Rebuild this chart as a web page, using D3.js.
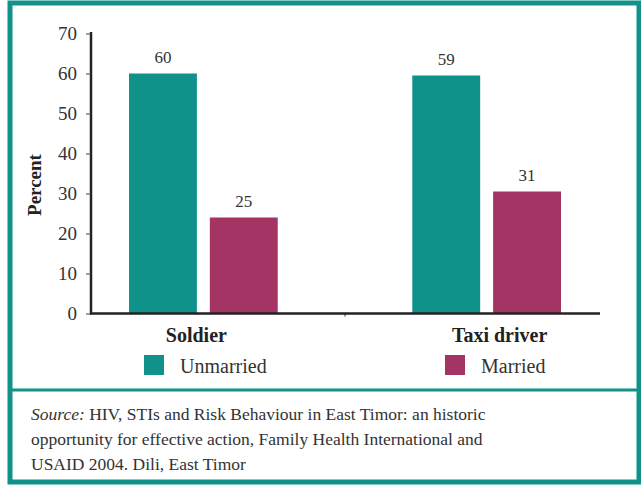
<!DOCTYPE html>
<html>
<head>
<meta charset="utf-8">
<script src="https://cdn.jsdelivr.net/npm/d3@7"></script>
<style>
  body { margin: 0; background: #fff; }
</style>
</head>
<body>
<div id="chart"></div>
<script>
    // data
    var categories = ["Soldier", "Taxi driver"];
    var keys = ["Unmarried", "Married"];
    var unmarried = [60, 59.5];
    var married = [24, 30.5];
    var valueLabels = [["60", "25"], ["59", "31"]];
    var yTicks = [0, 10, 20, 30, 40, 50, 60, 70];
    var sourceLines = [
      "HIV, STIs and Risk Behaviour in East Timor: an historic",
      "opportunity for effective action, Family Health International and",
      "USAID 2004. Dili, East Timor"
    ];

    var width = 641, height = 487;
    var teal = "#10928a", plum = "#a33464";
    var serif = "Liberation Serif";

    var svg = d3.select("#chart").append("svg")
        .attr("width", width)
        .attr("height", height)
        .attr("font-family", serif);

    // frame
    svg.append("rect")
        .attr("x", 10).attr("y", 3)
        .attr("width", 629).attr("height", 479)
        .attr("fill", "none")
        .attr("stroke", teal)
        .attr("stroke-width", 5);

    svg.append("line")
        .attr("x1", 10).attr("x2", 639)
        .attr("y1", 390).attr("y2", 390)
        .attr("stroke", teal)
        .attr("stroke-width", 3);

    var y = d3.scaleLinear().domain([0, 70]).range([313.5, 33.5]);

    var x0 = d3.scaleBand()
        .domain(categories)
        .range([129, 561])
        .paddingInner(0.475);

    var x1 = d3.scaleBand()
        .domain(keys)
        .range([0, x0.bandwidth()])
        .paddingInner(0.16);

    var color = d3.scaleOrdinal().domain(keys).range([teal, plum]);

    var data = categories.map(function(c, i) {
      return { cat: c, values: [
        { key: keys[0], value: unmarried[i], label: valueLabels[i][0] },
        { key: keys[1], value: married[i], label: valueLabels[i][1] }
      ]};
    });

    // y axis
    var yAxis = svg.append("g")
        .attr("transform", "translate(91,0)")
        .call(d3.axisLeft(y).tickValues(yTicks).tickSize(5).tickSizeOuter(0).tickPadding(9));
    yAxis.attr("font-family", serif).attr("font-size", 19);
    yAxis.select(".domain").attr("stroke", "#222").attr("stroke-width", 2.5)
        .attr("d", "M0," + (y(70) - 1.5) + "V" + (y(0) + 1));
    yAxis.selectAll(".tick line").attr("stroke", "#444").attr("stroke-width", 1);
    yAxis.selectAll(".tick text")
        .attr("font-family", serif)
        .attr("font-size", 19)
        .attr("fill", "#333");

    svg.append("text")
        .attr("transform", "translate(41,185) rotate(-90)")
        .attr("text-anchor", "middle")
        .attr("font-family", serif)
        .attr("font-size", 19)
        .attr("font-weight", "bold")
        .attr("fill", "#222")
        .text("Percent");

    // bars
    var groups = svg.append("g")
      .selectAll("g")
      .data(data)
      .enter().append("g")
        .attr("transform", function(d) { return "translate(" + x0(d.cat) + ",0)"; });

    groups.selectAll("rect")
      .data(function(d) { return d.values; })
      .enter().append("rect")
        .attr("x", function(d) { return x1(d.key); })
        .attr("y", function(d) { return y(d.value); })
        .attr("width", x1.bandwidth())
        .attr("height", function(d) { return y(0) - y(d.value); })
        .attr("fill", function(d) { return color(d.key); });

    groups.selectAll("text")
      .data(function(d) { return d.values; })
      .enter().append("text")
        .attr("x", function(d) { return x1(d.key) + x1.bandwidth() / 2; })
        .attr("y", function(d) { return y(d.value) - 11; })
        .attr("text-anchor", "middle")
        .attr("font-family", serif)
        .attr("font-size", 17)
        .attr("fill", "#333")
        .text(function(d) { return d.label; });

    // x axis line
    svg.append("line")
        .attr("x1", 90).attr("x2", 600)
        .attr("y1", y(0)).attr("y2", y(0))
        .attr("stroke", "#222")
        .attr("stroke-width", 2.5);
    svg.append("line")
        .attr("x1", 345).attr("x2", 345)
        .attr("y1", y(0)).attr("y2", y(0) + 3)
        .attr("stroke", "#222");

    var catOffset = [-7, 13];
    svg.selectAll(".cat")
      .data(categories)
      .enter().append("text")
        .attr("class", "cat")
        .attr("x", function(d, i) { return x0(d) + x0.bandwidth() / 2 + catOffset[i]; })
        .attr("y", 342)
        .attr("text-anchor", "middle")
        .attr("font-family", serif)
        .attr("font-size", 20)
        .attr("font-weight", "bold")
        .attr("fill", "#222")
        .text(function(d) { return d; });

    // legend
    var legendX = [144, 445];
    var legend = svg.selectAll(".legend")
      .data(keys)
      .enter().append("g")
        .attr("class", "legend")
        .attr("transform", function(d, i) { return "translate(" + legendX[i] + ",355)"; });

    legend.append("rect")
        .attr("width", 20).attr("height", 20)
        .attr("fill", color);

    legend.append("text")
        .attr("x", 36)
        .attr("y", 18)
        .attr("font-family", serif)
        .attr("font-size", 20)
        .attr("fill", "#333")
        .text(function(d) { return d; });

    // source note
    sourceLines.forEach(function(line, i) {
      var t = svg.append("text")
          .attr("x", 31)
          .attr("y", 420 + i * 25)
          .attr("font-family", serif)
          .attr("font-size", 17.5)
          .attr("fill", "#333");
      if (i === 0) {
        t.append("tspan").attr("font-style", "italic").text("Source:");
        t.append("tspan").text(" " + line);
      } else {
        t.text(line);
      }
    });
</script>
</body>
</html>
